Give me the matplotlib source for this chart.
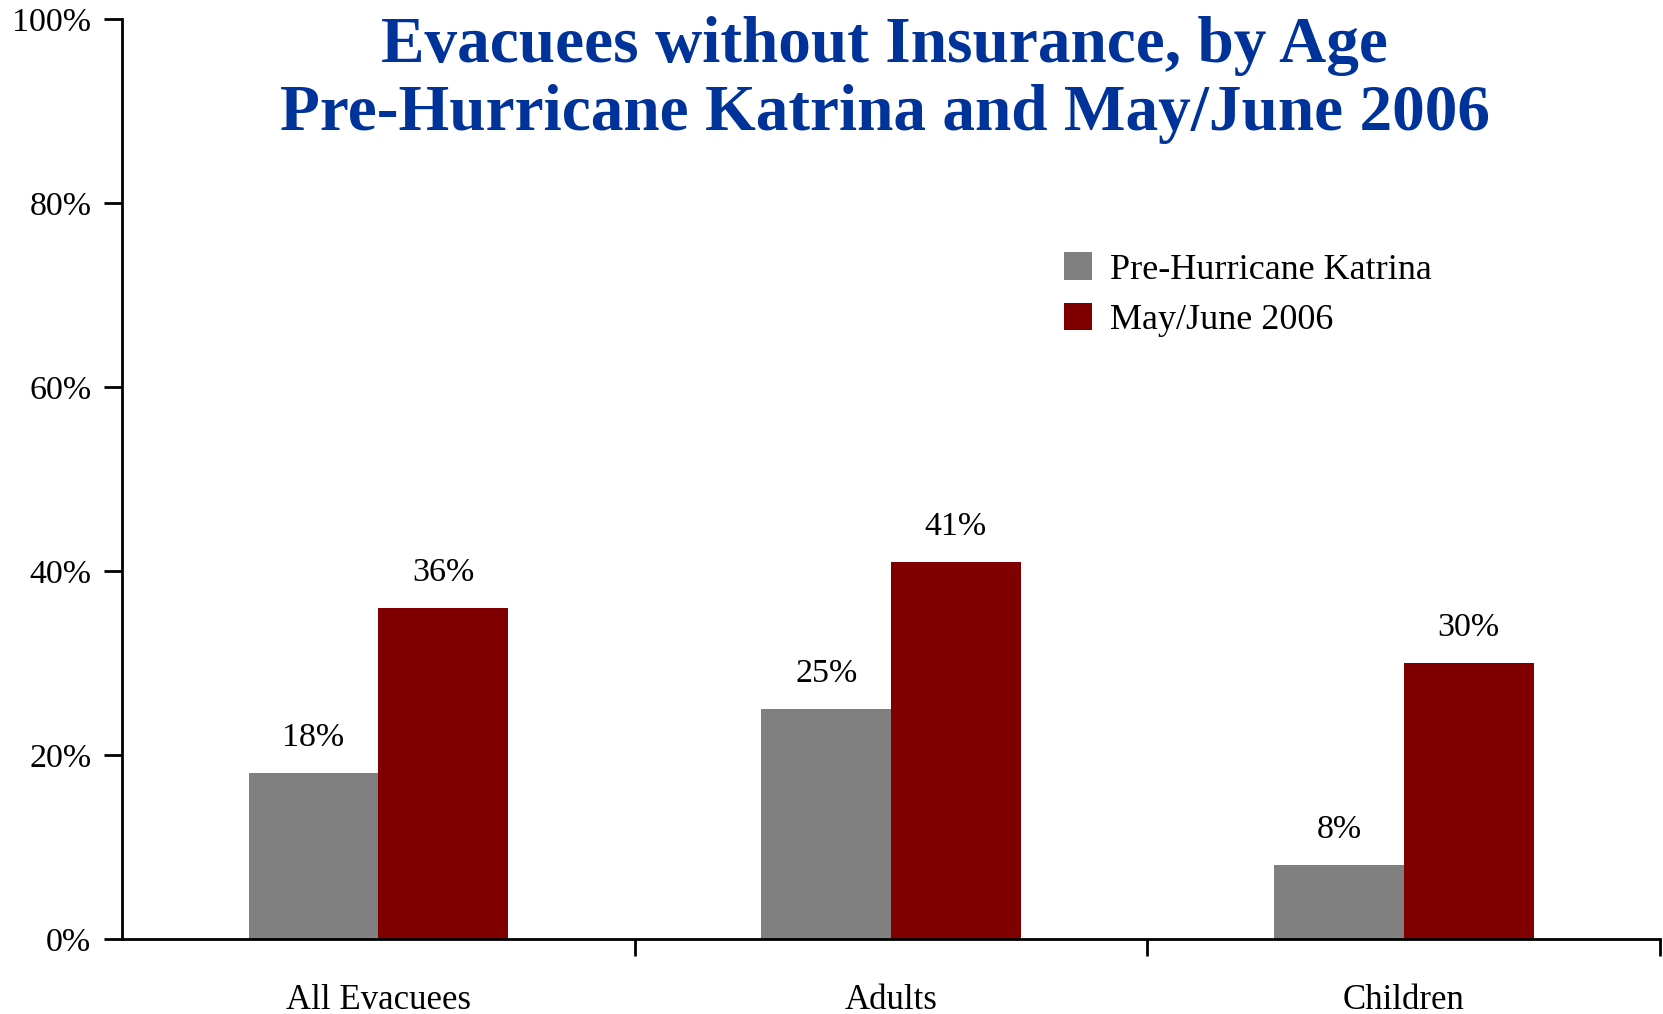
import matplotlib
matplotlib.use('Agg')
import matplotlib.pyplot as plt
import numpy as np

# data
categories = ['All Evacuees', 'Adults', 'Children']
pre_katrina = [18, 25, 8]
may_june_2006 = [36, 41, 30]
series_names = ['Pre-Hurricane Katrina', 'May/June 2006']
yticks = [0, 20, 40, 60, 80, 100]

plt.rcParams['font.family'] = ['Liberation Serif', 'DejaVu Serif']

fig = plt.figure(figsize=(16.63, 10.14), dpi=100)
ax = fig.add_axes([0.0733, 0.074, 0.925, 0.907])

x = np.arange(len(categories))
w = 0.253
b1 = ax.bar(x - w / 2, pre_katrina, w, color='#808080', label=series_names[0])
b2 = ax.bar(x + w / 2, may_june_2006, w, color='#800000', label=series_names[1])

for bars, vals in [(b1, pre_katrina), (b2, may_june_2006)]:
    for r, v in zip(bars, vals):
        ax.text(r.get_x() + r.get_width() / 2, v + 2.2, str(v) + '%',
                ha='center', va='bottom', fontsize=24.5)

ax.set_xlim(-0.5, 2.5)
ax.set_ylim(0, 100)
ax.set_yticks(yticks)
ax.set_yticklabels([str(t) + '%' for t in yticks], fontsize=24.5)
ax.set_xticks([0.5, 1.5, 2.5])
ax.set_xticklabels([])
ax.tick_params(axis='x', direction='out', length=12, width=2)
ax.tick_params(axis='y', direction='out', length=13, width=2, pad=9)
for i, c in enumerate(categories):
    ax.text(i, -4.9, c, ha='center', va='top', fontsize=25,
            transform=ax.transData)

for s in ['top', 'right']:
    ax.spines[s].set_visible(False)
ax.spines['left'].set_linewidth(2)
ax.spines['bottom'].set_linewidth(2)

leg = ax.legend(loc='upper left', bbox_to_anchor=(0.591, 0.782), frameon=False,
                fontsize=26, handlelength=0.8, handleheight=0.8,
                handletextpad=0.5, labelspacing=0.45)

fig.text(0.532, 0.955, 'Evacuees without Insurance, by Age',
         ha='center', va='center', fontsize=47, fontweight='bold', color='#003399')
fig.text(0.532, 0.888, 'Pre-Hurricane Katrina and May/June 2006',
         ha='center', va='center', fontsize=47, fontweight='bold', color='#003399')

fig.savefig('out.png', dpi=100)
